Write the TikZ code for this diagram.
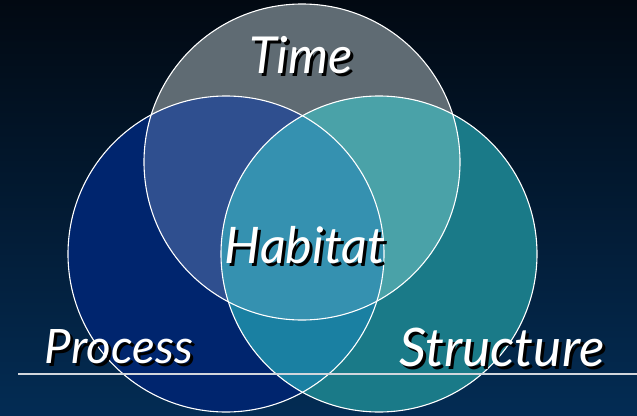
\documentclass[tikz,border=0pt]{standalone}
\usepackage{fontspec}
\setmainfont{Lato}
\usetikzlibrary{shadings,calc}
\definecolor{bgtop}{RGB}{2,9,18}
\definecolor{bgbot}{RGB}{3,44,84}
\definecolor{timecol}{RGB}{95,107,115}
\definecolor{proccol}{RGB}{0,37,110}
\definecolor{strucol}{RGB}{26,122,136}
\definecolor{tpcol}{RGB}{47,79,143}
\definecolor{tscol}{RGB}{74,162,168}
\definecolor{pscol}{RGB}{26,128,162}
\definecolor{midcol}{RGB}{53,145,176}
\definecolor{rulecol}{RGB}{210,214,220}
\tikzset{
  ring/.style={draw=white, line width=1.1pt},
  label/.style={inner sep=0pt, text=white, font=\itshape},
  labelsh/.style={inner sep=0pt, text=black, font=\itshape},
}
% white lettering over a black drop shadow, scaled to a given width
\newcommand{\shadowlabel}[4]{%
  \node[labelsh] (#1sh) at ($(#2)+(3,3)$) {\resizebox{#3pt}{!}{#4}};
  \node[label] (#1) at (#2) {\resizebox{#3pt}{!}{#4}};
}
\begin{document}
\begin{tikzpicture}[x=1pt,y=-1pt]
\useasboundingbox (0,0) rectangle (637,415);
\shade[top color=bgtop, bottom color=bgbot] (0,0) rectangle (637,415);

\coordinate (ct) at (302,162);
\coordinate (cp) at (226,254);
\coordinate (cs) at (379,254);
\def\rad{158pt}

% single sets
\fill[timecol] (ct) circle (\rad);
\fill[proccol] (cp) circle (\rad);
\fill[strucol] (cs) circle (\rad);
% pairwise overlaps
\begin{scope}
  \clip (ct) circle (\rad);
  \fill[tpcol] (cp) circle (\rad);
\end{scope}
\begin{scope}
  \clip (ct) circle (\rad);
  \fill[tscol] (cs) circle (\rad);
\end{scope}
\begin{scope}
  \clip (cp) circle (\rad);
  \fill[pscol] (cs) circle (\rad);
\end{scope}
% common centre
\begin{scope}
  \clip (ct) circle (\rad);
  \clip (cp) circle (\rad);
  \fill[midcol] (cs) circle (\rad);
\end{scope}
% outlines
\draw[ring] (ct) circle (\rad);
\draw[ring] (cp) circle (\rad);
\draw[ring] (cs) circle (\rad);

% baseline rule
\coordinate (rulel) at (18,374);
\coordinate (ruler) at (637,374);
\draw[rulecol, line width=1.2pt] (rulel) -- (ruler);

% labels
\shadowlabel{time}{301,55}{104}{Time}
\shadowlabel{habitat}{305,245}{160}{Habitat}
\shadowlabel{process}{119,347}{148}{Process}
\shadowlabel{structure}{502,347}{205}{Structure}
\end{tikzpicture}
\end{document}
